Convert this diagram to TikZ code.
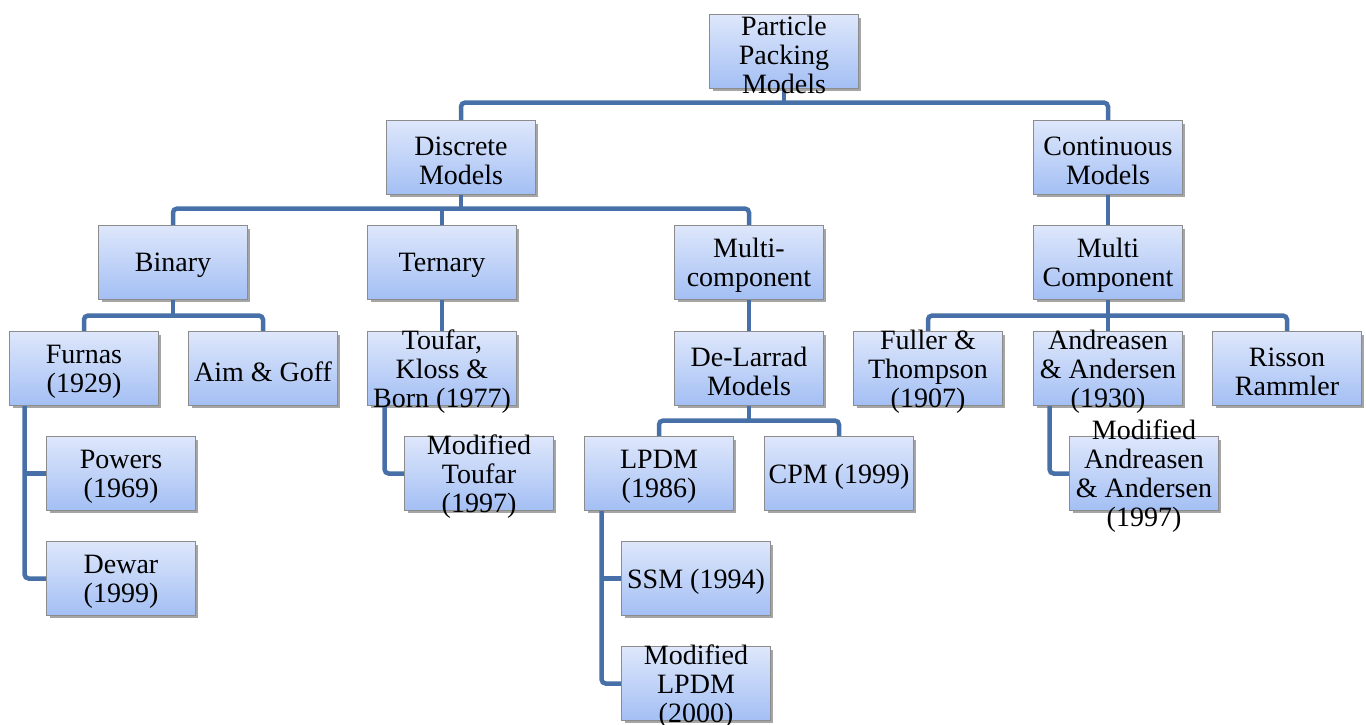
\documentclass[tikz,border=0pt]{standalone}
\usepackage{fontspec}
\setmainfont{Liberation Serif}
\usetikzlibrary{shadows}
\definecolor{boxtop}{RGB}{222,231,251}
\definecolor{boxbot}{RGB}{163,191,244}
\definecolor{boxline}{RGB}{140,140,140}
\definecolor{connc}{RGB}{72,112,168}
\begin{document}
\begin{tikzpicture}[x=1pt,y=-1pt,
  box/.style={rectangle, draw=boxline, line width=0.8pt, top color=boxtop, bottom color=boxbot,
    minimum width=148pt, minimum height=73pt, inner sep=0pt,
    drop shadow={shadow xshift=2.5pt, shadow yshift=-3pt, opacity=0.5, fill=black!70}},
  txt/.style={align=center, inner sep=0pt, yshift=-3pt, font=\fontsize{28}{29}\selectfont, text=black},
  conn/.style={draw=connc, line width=4.5pt, rounded corners=4pt, line cap=butt}]
\useasboundingbox (0,0) rectangle (1366,724);
\coordinate (pp) at (784,51.5);
\coordinate (dm) at (461,157.5);
\coordinate (cm) at (1108,157.5);
\coordinate (bi) at (173,262.5);
\coordinate (te) at (442,262.5);
\coordinate (mc) at (749,262.5);
\coordinate (mco) at (1108,262.5);
\coordinate (fu) at (84,368.5);
\coordinate (ag) at (263,368.5);
\coordinate (tk) at (442,368.5);
\coordinate (dl) at (749,368.5);
\coordinate (fl) at (928,368.5);
\coordinate (aa) at (1108,368.5);
\coordinate (ri) at (1287,368.5);
\coordinate (po) at (121,473.5);
\coordinate (de) at (121,578.5);
\coordinate (mt) at (479,473.5);
\coordinate (lp) at (659,473.5);
\coordinate (cp) at (839,473.5);
\coordinate (ss) at (696,578.5);
\coordinate (ml) at (696,683.5);
\coordinate (ma) at (1144,473.5);

\node[box] (PP) at (pp) {};
\node[box] (DM) at (dm) {};
\node[box] (CM) at (cm) {};
\node[box] (BI) at (bi) {};
\node[box] (TE) at (te) {};
\node[box] (MC) at (mc) {};
\node[box] (MCO) at (mco) {};
\node[box] (FU) at (fu) {};
\node[box] (AG) at (ag) {};
\node[box] (TK) at (tk) {};
\node[box] (DL) at (dl) {};
\node[box] (FL) at (fl) {};
\node[box] (AA) at (aa) {};
\node[box] (RI) at (ri) {};
\node[box] (PO) at (po) {};
\node[box] (DE) at (de) {};
\node[box] (MT) at (mt) {};
\node[box] (LP) at (lp) {};
\node[box] (CP) at (cp) {};
\node[box] (SS) at (ss) {};
\node[box] (ML) at (ml) {};
\node[box] (MA) at (ma) {};

% connectors
\draw[conn] (DM.north) -- ++(0,-18) -| (CM.north);
\draw[conn] (PP.south) -- ++(0,16);
\draw[conn] (BI.north) -- ++(0,-17) -| (MC.north);
\draw[conn] (TE.north) -- ++(0,-17);
\draw[conn] (DM.south) -- ++(0,16);
\draw[conn] (CM.south) -- (MCO.north);
\draw[conn] (FU.north) -- ++(0,-16) -| (AG.north);
\draw[conn] (BI.south) -- ++(0,17);
\draw[conn] (FL.north) -- ++(0,-16) -| (RI.north);
\draw[conn] (MCO.south) -- (AA.north);
\draw[conn] (TE.south) -- (TK.north);
\draw[conn] (MC.south) -- (DL.north);
\draw[conn] (LP.north) -- ++(0,-16) -| (CP.north);
\draw[conn] (DL.south) -- ++(0,16);
\coordinate (fuL) at ([xshift=15pt]FU.south west);
\draw[conn] (fuL) |- (DE.west);
\draw[conn, rounded corners=0pt] (fuL |- PO.west) -- (PO.west);
\coordinate (tkL) at ([xshift=17pt]TK.south west);
\draw[conn] (tkL) |- (MT.west);
\coordinate (lpL) at ([xshift=17pt]LP.south west);
\draw[conn] (lpL) |- (ML.west);
\draw[conn, rounded corners=0pt] (lpL |- SS.west) -- (SS.west);
\coordinate (aaL) at ([xshift=16pt]AA.south west);
\draw[conn] (aaL) |- (MA.west);

% boxes drawn again over connector ends
\foreach \n in {PP,DM,CM,BI,TE,MC,MCO,FU,AG,TK,DL,FL,AA,RI,PO,DE,MT,LP,CP,SS,ML,MA}{
  \path[draw=boxline, line width=0.8pt, top color=boxtop, bottom color=boxbot] (\n.south west) rectangle (\n.north east);
}

% texts
\node[txt] (tPP) at (PP) {Particle\\Packing\\Models};
\node[txt] (tDM) at (DM) {Discrete\\Models};
\node[txt] (tCM) at (CM) {Continuous\\Models};
\node[txt] (tBI) at (BI) {Binary};
\node[txt] (tTE) at (TE) {Ternary};
\node[txt] (tMC) at (MC) {Multi-\\component};
\node[txt] (tMCO) at (MCO) {Multi\\Component};
\node[txt] (tFU) at (FU) {Furnas\\(1929)};
\node[txt] (tAG) at (AG) {Aim \& Goff};
\node[txt] (tTK) at (TK) {Toufar,\\Kloss \&\\Born (1977)};
\node[txt] (tDL) at (DL) {De-Larrad\\Models};
\node[txt] (tFL) at (FL) {Fuller \&\\Thompson\\(1907)};
\node[txt] (tAA) at (AA) {Andreasen\\\& Andersen\\(1930)};
\node[txt] (tRI) at (RI) {Risson\\Rammler};
\node[txt] (tPO) at (PO) {Powers\\(1969)};
\node[txt] (tDE) at (DE) {Dewar\\(1999)};
\node[txt] (tMT) at (MT) {Modified\\Toufar\\(1997)};
\node[txt] (tLP) at (LP) {LPDM\\(1986)};
\node[txt] (tCP) at (CP) {CPM (1999)};
\node[txt] (tSS) at (SS) {SSM (1994)};
\node[txt] (tML) at (ML) {Modified\\LPDM\\(2000)};
\node[txt] (tMA) at (MA) {Modified\\Andreasen\\\& Andersen\\(1997)};
\end{tikzpicture}
\end{document}
